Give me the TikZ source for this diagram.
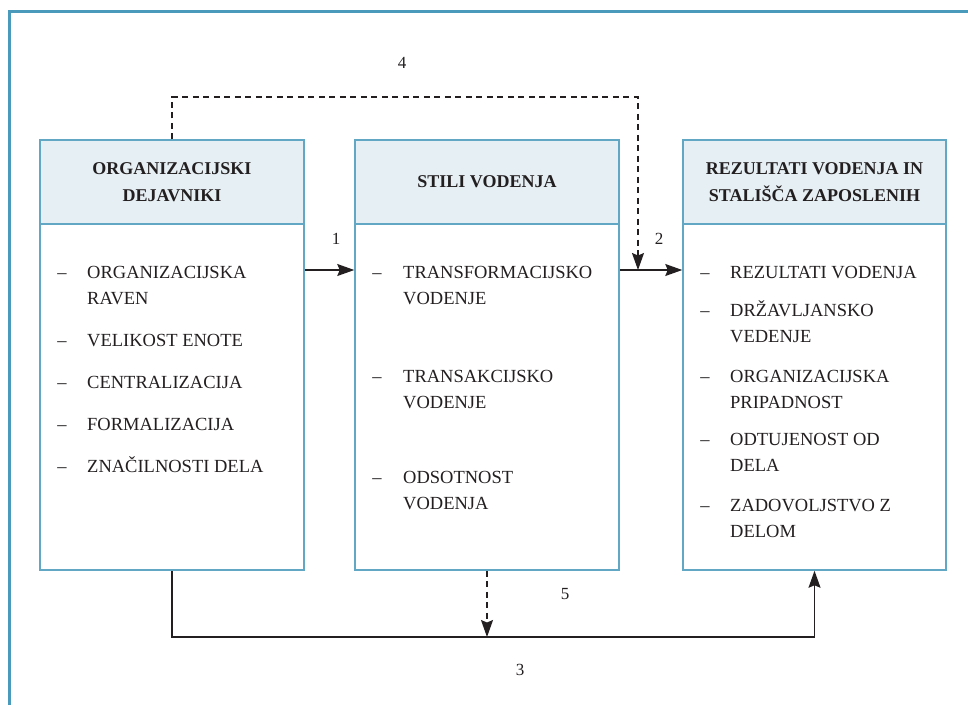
\documentclass[tikz,border=0pt]{standalone}
\usepackage{fontspec}
\setmainfont{Liberation Serif}
\usetikzlibrary{arrows.meta}
\definecolor{frameblue}{HTML}{4A9BBB}
\definecolor{boxblue}{HTML}{62A8C4}
\definecolor{hdrfill}{HTML}{E6EFF4}
\definecolor{ink}{HTML}{231F20}
\begin{document}
\begin{tikzpicture}[x=1pt,y=-1pt,
 boxbody/.style={draw=boxblue,line width=1.5pt,fill=white,minimum width=264pt,inner sep=0pt,rectangle},
 hdr/.style={draw=boxblue,line width=1.5pt,fill=hdrfill,minimum width=264pt,minimum height=84pt,inner sep=0pt,align=center,font=\fontsize{18}{27}\selectfont\bfseries,text=ink},
 item/.style={anchor=base west,inner sep=0pt,font=\fontsize{18.5}{26}\selectfont,text=ink},
 dashmark/.style={anchor=base,inner sep=0pt,font=\fontsize{18.5}{26}\selectfont,text=ink},
 num/.style={font=\fontsize{17}{20}\selectfont,text=ink,inner sep=0pt},
 conn/.style={draw=ink,line width=1.3pt,-{Stealth[length=17pt,width=12pt,inset=2.5pt]}},
 dconn/.style={conn,dash pattern=on 6pt off 4.5pt},
]
\useasboundingbox (0,0) rectangle (968,705);
\draw[frameblue,line width=3pt] (9.5,705) -- (9.5,11.5) -- (968,11.5);

% boxes
\node[boxbody,minimum height=346pt] (b1) at (172,397) {};
\node[hdr] (h1) at (172,182) {ORGANIZACIJSKI\\DEJAVNIKI};
\node[boxbody,minimum height=346pt] (b2) at (487,397) {};
\node[hdr] (h2) at (487,182) {STILI VODENJA};
\node[boxbody,minimum height=346pt,minimum width=263pt] (b3) at (814.5,397) {};
\node[hdr,minimum width=263pt] (h3) at (814.5,182) {REZULTATI VODENJA IN\\STALIŠČA ZAPOSLENIH};

% box 1 items
\foreach \y/\t [count=\i] in {278/ORGANIZACIJSKA,346/VELIKOST ENOTE,388/CENTRALIZACIJA,430/FORMALIZACIJA,472/ZNAČILNOSTI DELA}{
  \node[dashmark] (d1-\i) at (62,\y) {–};
  \node[item] (i1-\i) at (87,\y) {\t};
}
\node[item] (i1-c) at (87,304) {RAVEN};

% box 2 items
\foreach \y/\t [count=\i] in {278/TRANSFORMACIJSKO,382/TRANSAKCIJSKO,483/ODSOTNOST}{
  \node[dashmark] (d2-\i) at (377,\y) {–};
  \node[item] (i2-\i) at (403,\y) {\t};
}
\node[item] (i2-a) at (403,304) {VODENJE};
\node[item] (i2-b) at (403,408) {VODENJE};
\node[item] (i2-c) at (403,509) {VODENJA};

% box 3 items
\foreach \y/\t [count=\i] in {278/REZULTATI VODENJA,316/DRŽAVLJANSKO,382/ORGANIZACIJSKA,445/ODTUJENOST OD,511/ZADOVOLJSTVO Z}{
  \node[dashmark] (d3-\i) at (705,\y) {–};
  \node[item] (i3-\i) at (730,\y) {\t};
}
\node[item] (i3-a) at (730,342) {VEDENJE};
\node[item] (i3-b) at (730,408) {PRIPADNOST};
\node[item] (i3-c) at (730,471) {DELA};
\node[item] (i3-d) at (730,537) {DELOM};

% connectors
\coordinate (ay) at (0,270);
\coordinate (t4) at (638,97);
\coordinate (j2) at (638,270);
\coordinate (m3) at (487,637);
\draw[conn] (b1.east |- ay) -- (b2.west |- ay);
\draw[conn] (b2.east |- ay) -- (b3.west |- ay);
\draw[dconn] (h1.north) |- (t4) -- (j2);
\draw[conn] (b1.south) |- (m3) -| (b3.south);
\draw[dconn] (b2.south) -- (m3);

% labels
\node[num] (n1) at (336,239) {1};
\node[num] (n2) at (659,239) {2};
\node[num] (n4) at (402,63) {4};
\node[num] (n5) at (565,594) {5};
\node[num] (n3) at (520,670) {3};
\end{tikzpicture}
\end{document}
